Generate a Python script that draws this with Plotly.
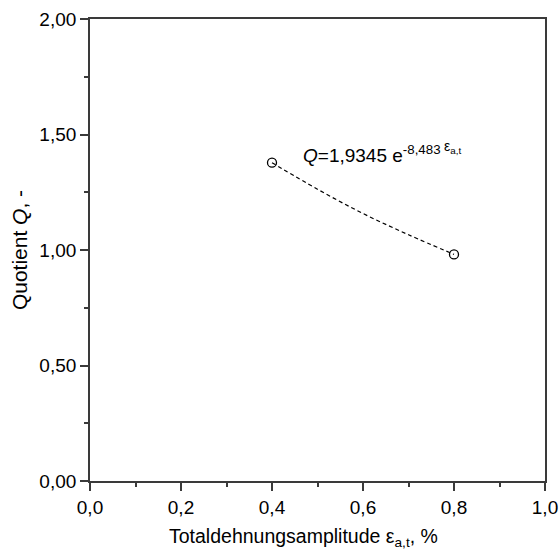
import plotly.graph_objects as go

# measured points
x_points = [0.4, 0.8]
q_points = [1.378, 0.981]
# fitted curve
x_fit = [0.4, 0.5, 0.6, 0.7, 0.8]
q_fit = [1.378, 1.263, 1.158, 1.066, 0.981]

fit_label = "<i>Q</i>=1,9345 e<sup>-8,483</sup>"
fit_var = "ε<sub>a,t</sub>"
x_title = "Totaldehnungsamplitude ε<sub>a,t</sub>, %"
y_title = "Quotient <i>Q</i>, -"

FONT = "Liberation Sans, Arial"

fig = go.Figure()
fig.add_trace(go.Scatter(x=x_fit, y=q_fit, mode="lines", line_shape="spline",
                         line=dict(color="black", width=1.2, dash="4px,3px"),
                         showlegend=False, hoverinfo="skip"))
fig.add_trace(go.Scatter(x=x_points, y=q_points, mode="markers",
                         marker=dict(symbol="circle-open", size=9, color="black",
                                     line=dict(width=1.3)),
                         showlegend=False))

fig.add_annotation(x=0.464, y=1.415, xref="x", yref="y", text=fit_label,
                   showarrow=False, xanchor="left", yanchor="middle",
                   font=dict(family=FONT, size=19, color="black"))
fig.add_annotation(x=0.774, y=1.445, xref="x", yref="y", text=fit_var,
                   showarrow=False, xanchor="left", yanchor="middle",
                   font=dict(family=FONT, size=14, color="black"))

# x axis title (placed slightly left of centre, as in the reference)
fig.add_annotation(x=0.47, y=-0.123, xref="paper", yref="paper", text=x_title,
                   showarrow=False, xanchor="center", yanchor="middle",
                   font=dict(family=FONT, size=19.5, color="black"))

axis_common = dict(showline=True, linecolor="#3a3a3a", linewidth=1.8, mirror=True,
                   ticks="outside", ticklen=8, tickwidth=1.5, tickcolor="#3a3a3a",
                   showgrid=False, zeroline=False, automargin=False,
                   tickfont=dict(family=FONT, size=19, color="black"))

fig.update_xaxes(range=[0, 1.0], dtick=0.2, tick0=0, tickformat=".1f",
                 minor=dict(ticks="outside", ticklen=4, dtick=0.1, tickcolor="#3a3a3a", tickwidth=1.5),
                 **axis_common)
fig.update_yaxes(range=[0, 2.0], dtick=0.5, tick0=0, tickformat=".2f",
                 minor=dict(ticks="outside", ticklen=4, dtick=0.25, tickcolor="#3a3a3a", tickwidth=1.5),
                 title=dict(text=y_title, standoff=6,
                            font=dict(family=FONT, size=21, color="black")),
                 **axis_common)

fig.update_layout(width=560, height=555, separators=",.",
                  margin=dict(l=90, r=15, t=19, b=74),
                  plot_bgcolor="white", paper_bgcolor="white")

fig.write_html("out.html")
